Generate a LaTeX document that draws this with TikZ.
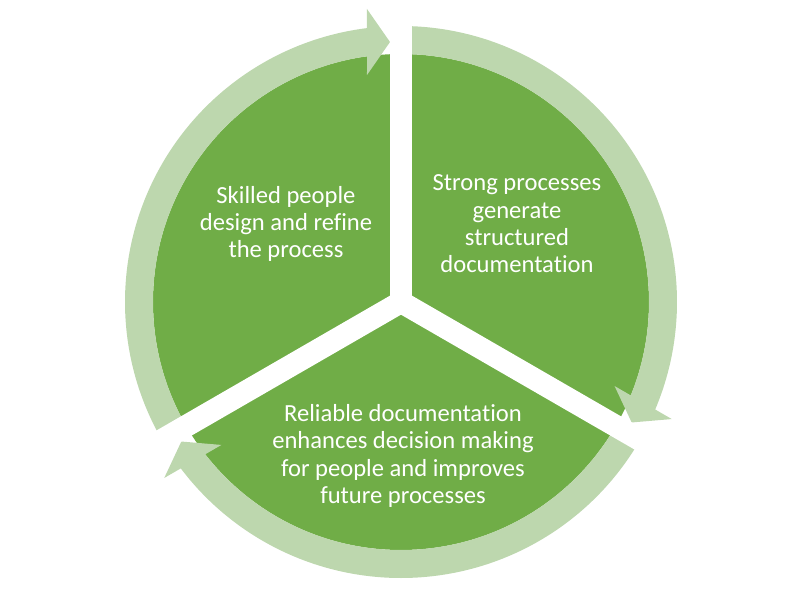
\documentclass[tikz,border=0pt]{standalone}
\usepackage{fontspec}
\setmainfont[Ligatures=NoCommon]{Carlito}
\definecolor{pie}{RGB}{112,173,71}
\definecolor{ringc}{HTML}{BDD7AE}
\tikzset{
  piefill/.style={fill=pie},
  ringfill/.style={fill=ringc},
  gapline/.style={draw=white,line width=22bp},
  lbl/.style={text=white,align=center,font=\fontsize{24.6bp}{27.4bp}\selectfont,inner sep=0pt}
}
\begin{document}
\begin{tikzpicture}[x=1bp,y=1bp]
\useasboundingbox (-401,-304) rectangle (401,302);
% pie
\fill[piefill] (0,0) circle[radius=248];
% ring segments with arrowheads
\foreach \r in {0,-120,-240}{
  \begin{scope}[rotate=\r]
    \fill[ringfill] (210:276) arc[start angle=210, end angle=97.08, radius=276]
      -- (-34,293) -- (-11,260) -- (-34,227) -- (97.88:248)
      arc[start angle=97.88, end angle=210, radius=248] -- cycle;
  \end{scope}
}
% gaps
\coordinate (c) at (0,0);
\coordinate (g1) at (90:330);
\coordinate (g2) at (-30:330);
\coordinate (g3) at (210:330);
\draw[gapline] (c) -- (g1);
\draw[gapline] (c) -- (g2);
\draw[gapline] (c) -- (g3);
% labels
\node[lbl] (t1) at (-115,78) {Skilled people\\design and refine\\the process};
\node[lbl] (t2) at (116,78) {Strong processes\\generate\\structured\\documentation};
\node[lbl] (t3) at (2,-154) {Reliable documentation\\enhances decision making\\for people and improves\\future processes};
\end{tikzpicture}
\end{document}
